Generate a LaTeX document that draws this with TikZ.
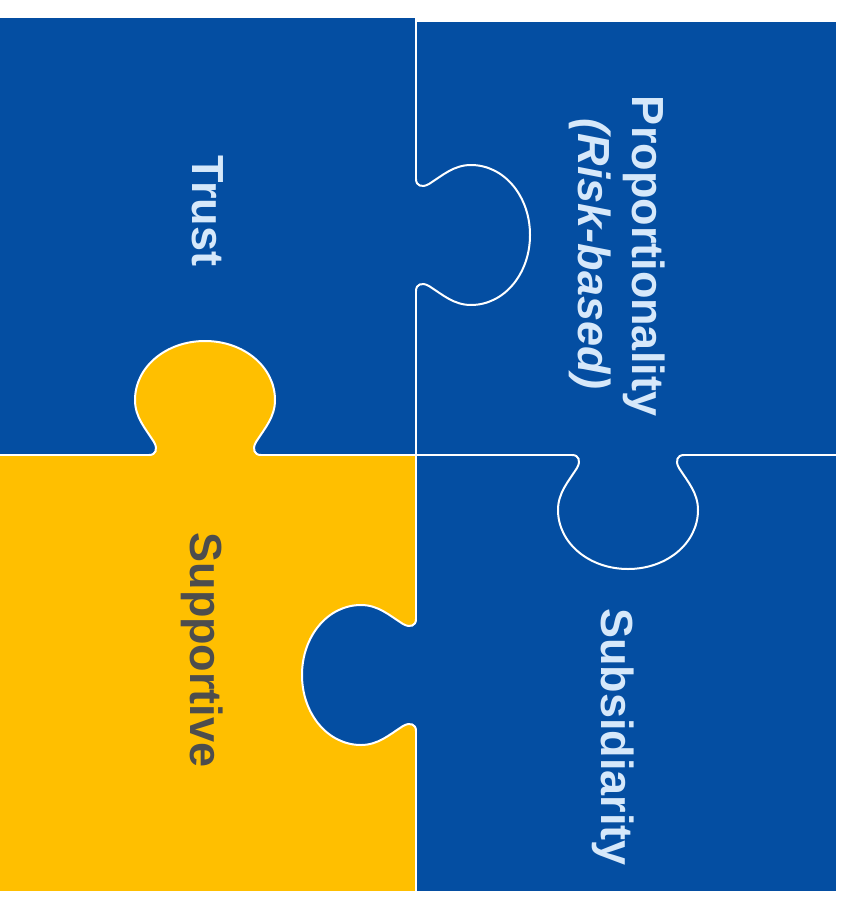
\documentclass[tikz,border=0pt]{standalone}
\usepackage{fontspec}
\setmainfont{Liberation Sans}
\definecolor{pzblue}{HTML}{044EA2}
\definecolor{pzyellow}{HTML}{FFBF00}
\definecolor{pzlight}{HTML}{D6E8FA}
\definecolor{pzdark}{HTML}{4D4D4D}
\newcommand{\knobfill}[1]{\fill[#1] (-56,0) .. controls (-49,0) and (-47,6) .. (-51,13)
  .. controls (-60,27) and (-70,38) .. (-70,55)
  .. controls (-70,88) and (-39,114) .. (0,114)
  .. controls (39,114) and (70,88) .. (70,55)
  .. controls (70,38) and (60,27) .. (51,13)
  .. controls (47,6) and (49,0) .. (56,0) -- cycle;}
\newcommand{\knobline}{\draw[wline] (-56,0) .. controls (-49,0) and (-47,6) .. (-51,13)
  .. controls (-60,27) and (-70,38) .. (-70,55)
  .. controls (-70,88) and (-39,114) .. (0,114)
  .. controls (39,114) and (70,88) .. (70,55)
  .. controls (70,38) and (60,27) .. (51,13)
  .. controls (47,6) and (49,0) .. (56,0);}
\tikzset{
  wline/.style={draw=white, line width=2pt, line cap=round, line join=round},
  lbl/.style={font=\fontsize{45}{55}\selectfont\bfseries, inner sep=0pt, anchor=base, rotate=-90},
}
\begin{document}
\begin{tikzpicture}[x=1pt,y=-1pt]
\useasboundingbox (0,0) rectangle (842,899);
% pieces
\fill[pzblue] (0,18) rectangle (416,455);
\fill[pzblue] (416,22) rectangle (836,455);
\fill[pzyellow] (0,455) rectangle (416,891);
\fill[pzblue] (416,455) rectangle (836,891);
% knob of yellow piece into top-left
\begin{scope}[shift={(205pt,-455pt)}, x={(1pt,0pt)}, y={(0pt,1pt)}]
  \knobfill{pzyellow}
  \knobline
\end{scope}
% knob of top-left piece into top-right
\begin{scope}[shift={(416pt,-235pt)}, x={(0pt,-1pt)}, y={(1pt,0pt)}]
  \knobline
\end{scope}
% knob of bottom-right piece into yellow
\begin{scope}[shift={(416pt,-675pt)}, x={(0pt,-1pt)}, y={(-1pt,0pt)}]
  \knobfill{pzblue}
  \knobline
\end{scope}
% knob of top-right piece into bottom-right
\begin{scope}[shift={(628pt,-455pt)}, x={(1pt,0pt)}, y={(0pt,-1pt)}]
  \knobline
\end{scope}
% seams
\draw[wline] (416,18) -- (416,179);
\draw[wline] (416,291) -- (416,619);
\draw[wline] (416,731) -- (416,891);
\draw[wline] (0,455) -- (149,455);
\draw[wline] (261,455) -- (572,455);
\draw[wline] (684,455) -- (836,455);
% labels
\node[lbl, text=pzlight] (trust) at (192,211) {Trust};
\node[lbl, text=pzlight] (prop) at (632,256) {Proportionality};
\node[lbl, text=pzlight] (risk) at (578,254) {\itshape (Risk-based)};
\node[lbl, text=pzdark] (supp) at (190,650) {Supportive};
\node[lbl, text=pzlight] (subs) at (601,737) {Subsidiarity};
\end{tikzpicture}
\end{document}
